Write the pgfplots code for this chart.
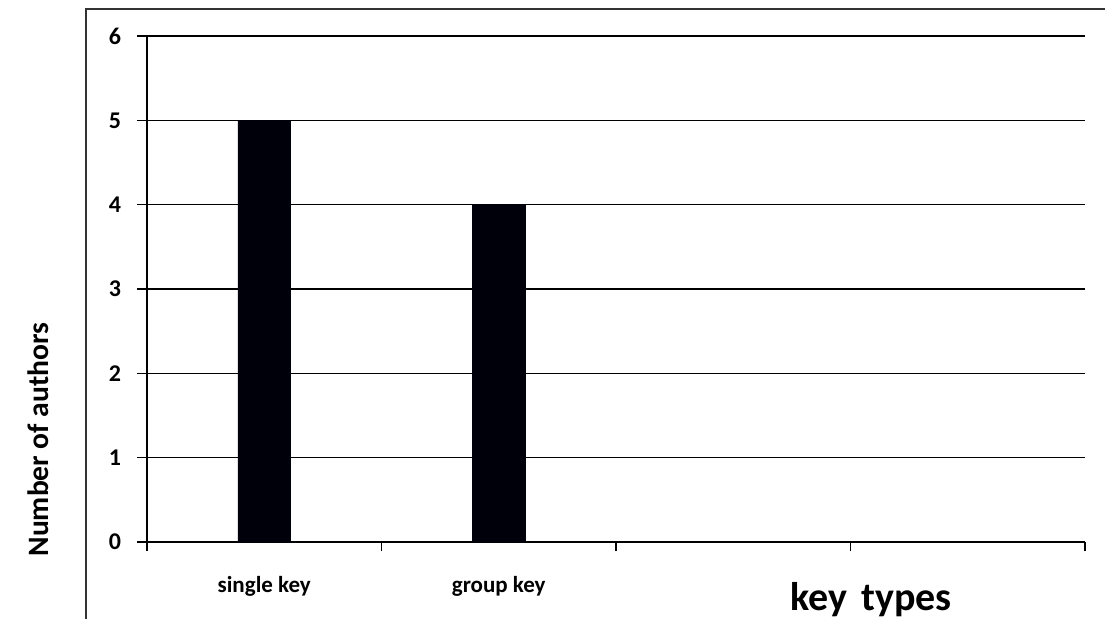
\documentclass[border=0pt]{standalone}
\usepackage{fontspec}
\setmainfont{Carlito}
\usepackage{pgfplots}
\pgfplotsset{compat=1.18}
\definecolor{barcol}{HTML}{00000A}
\begin{document}
\begin{tikzpicture}
\path[use as bounding box] (0,0) rectangle (552.5pt,309pt);
\draw[line width=0.8pt, black!80] (43pt,-20pt) rectangle (580pt,304.5pt);
\begin{axis}[
  at={(73.5pt,38pt)}, anchor=south west,
  scale only axis, width=469pt, height=253pt,
  xmin=-0.5, xmax=3.5, ymin=0, ymax=6,
  axis x line*=bottom, axis y line*=left,
  axis line style={line width=0.75pt, black, -},
  xtick={0,1,2,3}, xticklabels={single key,group key,,},
  minor xtick={-0.5,0.5,1.5,2.5,3.5},
  major x tick style={draw=none},
  minor x tick style={black, line width=0.75pt},
  minor tick length=4.5pt,
  ytick={0,1,2,3,4,5,6},
  major tick length=5pt,
  tick align=outside,
  y tick style={black, line width=0.75pt},
  ymajorgrids, grid style={black, line width=0.75pt},
  /pgf/number format/assume math mode=true,
  yticklabel style={font=\fontsize{12}{14}\selectfont\bfseries, xshift=-4.5pt},
  xticklabel style={font=\fontsize{11.5}{13}\selectfont\bfseries, yshift=-8.5pt},
  xlabel={key\hspace{0.35em}types},
  xlabel style={at={(axis description cs:0.772,-0.136)}, anchor=base, font=\fontsize{20}{24}\selectfont\bfseries},
  ylabel={Number of authors},
  ylabel style={at={(axis description cs:-0.116,0.2026)}, anchor=center, rotate=0, font=\fontsize{14.8}{17}\selectfont\bfseries},
  clip=false,
]
\addplot[ybar, bar width=26.3pt, fill=barcol, draw=barcol] coordinates {(0,5) (1,4)};
\end{axis}
\end{tikzpicture}
\end{document}
